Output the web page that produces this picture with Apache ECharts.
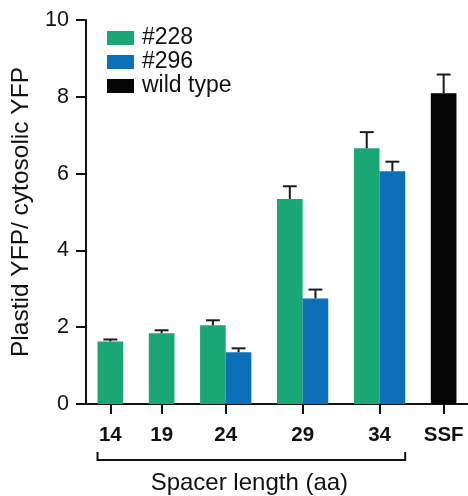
<!DOCTYPE html>
<html>
<head>
<meta charset="utf-8">
<script src="https://cdn.jsdelivr.net/npm/echarts@6/dist/echarts.min.js"></script>
<style>
  html, body { margin: 0; padding: 0; background: #fff; }
  #chart { width: 468px; height: 496px; }
</style>
</head>
<body>
<div id="chart"></div>
<script>
// Categories (spacer length in amino acids, plus the SSF control)
const categories = ['14', '19', '24', '29', '34', 'SSF'];
// Plastid/cytosolic YFP ratio per construct, with upper error (SD)
const values228 = [1.63, 1.84, 2.05, 5.34, 6.66, null];
const errors228 = [0.05, 0.08, 0.13, 0.33, 0.42, null];
const values296 = [null, null, 1.35, 2.75, 6.06, null];
const errors296 = [null, null, 0.10, 0.23, 0.25, null];
const valuesWild = [null, null, null, null, null, 8.09];
const errorsWild = [null, null, null, null, null, 0.49];
const yTicks = [0, 2, 4, 6, 8, 10];
const bracketCategories = ['14', '19', '24', '29', '34'];

const FONT = '"Liberation Sans", Arial, Helvetica, sans-serif';
const groups = [
  { name: '#228', values: values228, errors: errors228, color: '#1aa776' },
  { name: '#296', values: values296, errors: errors296, color: '#0b6fba' },
  { name: 'wild type', values: valuesWild, errors: errorsWild, color: '#050505' }
];

// Axis units: one bar is one unit wide; groups are separated by one unit.
const LEAD = 0.45, GAP = 1;
let cursor = LEAD;
const groupCenters = [], groupStart = [], groupEnd = [];
const seriesData = groups.map(() => []);
categories.forEach((cat, i) => {
  const present = groups.map((g, k) => g.values[i] != null ? k : -1).filter(k => k >= 0);
  groupStart.push(cursor);
  present.forEach((k, j) => {
    seriesData[k].push([cursor + 0.5 + j, groups[k].values[i], groups[k].errors[i]]);
  });
  groupCenters.push(cursor + present.length / 2);
  cursor += present.length;
  groupEnd.push(cursor);
  cursor += GAP;
});
const xMax = cursor - GAP + LEAD;

function barRenderer(color) {
  return function (params, api) {
    const x = api.value(0), y = api.value(1), e = api.value(2);
    const base = api.coord([x - 0.5, 0]);
    const top = api.coord([x + 0.5, y]);
    const mid = api.coord([x, y]);
    const errTop = api.coord([x, y + e]);
    const capHalf = api.coord([x + 0.27, 0])[0] - api.coord([x, 0])[0];
    return {
      type: 'group',
      children: [
        { type: 'rect', shape: { x: base[0], y: top[1], width: top[0] - base[0], height: base[1] - top[1] },
          style: { fill: color } },
        { type: 'line', shape: { x1: mid[0], y1: mid[1], x2: errTop[0], y2: errTop[1] },
          style: { stroke: '#1a1a1a', lineWidth: 2 } },
        { type: 'line', shape: { x1: errTop[0] - capHalf, y1: errTop[1], x2: errTop[0] + capHalf, y2: errTop[1] },
          style: { stroke: '#1a1a1a', lineWidth: 2 } }
      ]
    };
  };
}

const series = groups.map((g, k) => ({
  name: g.name,
  type: 'custom',
  itemStyle: { color: g.color },
  renderItem: barRenderer(g.color),
  encode: { x: 0, y: 1 },
  data: seriesData[k],
  clip: false
}));

// Bracket grouping the spacer-length categories, with its caption
const firstIdx = categories.indexOf(bracketCategories[0]);
const lastIdx = categories.indexOf(bracketCategories[bracketCategories.length - 1]);
series.push({
  type: 'custom',
  silent: true,
  clip: false,
  data: [[0]],
  renderItem: function (params, api) {
    const left = api.coord([groupStart[firstIdx], 0]);
    const right = api.coord([groupEnd[lastIdx], 0]);
    const yLine = left[1] + 56;
    const yEnd = left[1] + 48;
    return {
      type: 'group',
      children: [
        { type: 'polyline', shape: { points: [[left[0], yEnd], [left[0], yLine], [right[0], yLine], [right[0], yEnd]] },
          style: { stroke: '#111', lineWidth: 2, fill: null } },
        { type: 'text', style: { text: 'Spacer length (aa)', x: (left[0] + right[0]) / 2 - 2, y: left[1] + 79,
          align: 'center', verticalAlign: 'middle', font: '24px ' + FONT, fill: '#111' } }
      ]
    };
  }
});

const chart = echarts.init(document.getElementById('chart'), null, { renderer: 'canvas' });
chart.setOption({
  animation: false,
  backgroundColor: '#fff',
  grid: { left: 86, right: 0, top: 20, bottom: 92, containLabel: false },
  legend: {
    data: groups.map(g => g.name),
    orient: 'vertical',
    left: 107,
    top: 26,
    padding: 0,
    itemGap: 0,
    itemWidth: 27,
    itemHeight: 14,
    icon: 'rect',
    textStyle: { fontFamily: FONT, fontSize: 23, color: '#111', lineHeight: 24, padding: [0, 0, 0, 3] }
  },
  xAxis: {
    type: 'value',
    min: 0,
    max: xMax,
    splitLine: { show: false },
    axisLine: { show: true, onZero: false, lineStyle: { color: '#111', width: 2 } },
    axisTick: { show: true, customValues: groupCenters, length: 10, lineStyle: { color: '#111', width: 2 } },
    axisLabel: {
      customValues: groupCenters,
      margin: 21,
      fontFamily: FONT, fontSize: 20.5, fontWeight: 'bold', color: '#111',
      formatter: function (v) {
        const i = groupCenters.findIndex(c => Math.abs(c - v) < 1e-6);
        return i >= 0 ? categories[i] : '';
      }
    }
  },
  yAxis: {
    type: 'value',
    min: yTicks[0],
    max: yTicks[yTicks.length - 1],
    interval: 2,
    name: 'Plastid YFP/ cytosolic YFP',
    nameLocation: 'middle',
    nameRotate: 90,
    nameGap: 44,
    nameTextStyle: { fontFamily: FONT, fontSize: 24.5, color: '#111' },
    splitLine: { show: false },
    axisLine: { show: true, lineStyle: { color: '#111', width: 2 } },
    axisTick: { show: true, length: 10, lineStyle: { color: '#111', width: 2 } },
    axisLabel: { margin: 17, fontFamily: FONT, fontSize: 21.5, color: '#111' }
  },
  series: series
});
</script>
</body>
</html>
